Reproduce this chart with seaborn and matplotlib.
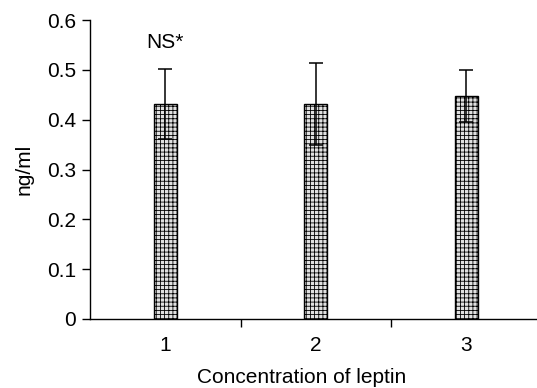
import matplotlib
matplotlib.use("Agg")
import matplotlib.pyplot as plt
import seaborn as sns
import pandas as pd
from matplotlib.ticker import FixedLocator

categories = ["1", "2", "3"]
means = [0.432, 0.432, 0.447]
errors = [0.070, 0.083, 0.052]
yticks = [0, 0.1, 0.2, 0.3, 0.4, 0.5, 0.6]
ytick_labels = ["0", "0.1", "0.2", "0.3", "0.4", "0.5", "0.6"]

sns.set_style("white")
plt.rcParams['font.family'] = ['Liberation Sans', 'DejaVu Sans']
plt.rcParams['text.color'] = 'black'
plt.rcParams['axes.labelcolor'] = 'black'
plt.rcParams['xtick.color'] = 'black'
plt.rcParams['ytick.color'] = 'black'
plt.rcParams['hatch.color'] = '#a0a0a0'
plt.rcParams['hatch.linewidth'] = 0.6

df = pd.DataFrame({"conc": categories, "val": means})

fig = plt.figure(figsize=(5.37, 3.88), dpi=100)
ax = fig.add_axes([0.1676, 0.178, 0.8324, 0.770])

sns.barplot(data=df, x="conc", y="val", ax=ax, color="#d0d0d0",
            width=0.153, edgecolor="black", linewidth=1.0, errorbar=None,
            saturation=1)
for p in ax.patches:
    p.set_hatch('++++')
    p.set_facecolor('#e0e0e0')
    p.set_edgecolor('black')

ax.errorbar(range(len(categories)), means, yerr=errors, fmt='none',
            ecolor='black', elinewidth=1.1, capsize=5, capthick=1.1)

ax.text(0, 0.556, "NS*", ha='center', va='center', fontsize=15)

ax.set_xlim(-0.5, 2.47)
ax.set_ylim(0, 0.6)
ax.set_yticks(yticks)
ax.set_yticklabels(ytick_labels)
ax.xaxis.set_minor_locator(FixedLocator([0.5, 1.5]))
ax.tick_params(axis='x', which='major', length=0, pad=12, labelsize=15)
ax.tick_params(axis='x', which='minor', length=6, width=1, direction='out',
               color='black', bottom=True)
ax.tick_params(axis='y', which='major', length=6, width=1, direction='out',
               color='black', left=True, labelsize=15, pad=4)

for s in ['top', 'right']:
    ax.spines[s].set_visible(False)
for s in ['left', 'bottom']:
    ax.spines[s].set_color('black')
    ax.spines[s].set_linewidth(1.0)

ax.set_xlabel("Concentration of leptin", fontsize=15, labelpad=6)
ax.xaxis.set_label_coords(0.474, -0.165)
ax.set_ylabel("ng/ml", fontsize=15, labelpad=10)

fig.savefig("out.png", dpi=100)
